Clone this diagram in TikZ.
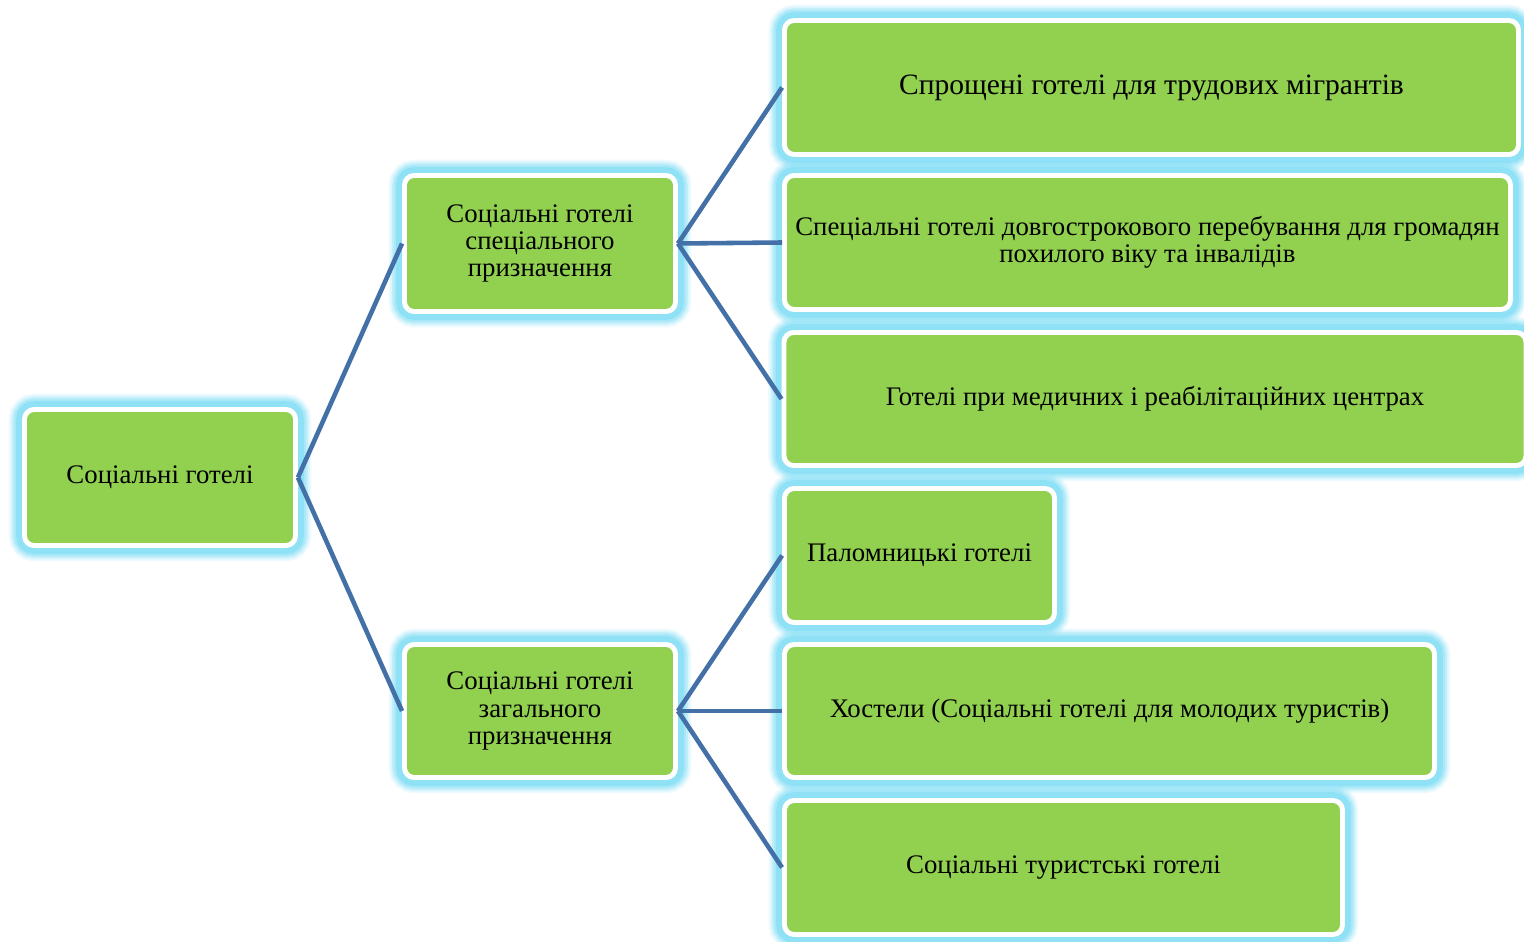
\documentclass[tikz,border=0pt]{standalone}
\usepackage{fontspec}
\setmainfont{Liberation Serif}
\definecolor{boxgreen}{RGB}{146,208,80}
\definecolor{glowblue}{RGB}{140,224,246}
\definecolor{linkblue}{RGB}{68,112,168}
\begin{document}
\begin{tikzpicture}[x=0.02cm,y=-0.02cm,
  hotel/.style={rectangle,rounded corners=5.5pt,draw=white,line width=2.8pt,fill=boxgreen,
    align=center,inner sep=0pt,font=\fontsize{15.25}{15.6}\selectfont,
    preaction={draw=glowblue,line width=18pt,opacity=0.15},
    preaction={draw=glowblue,line width=16pt,opacity=0.2},
    preaction={draw=glowblue,line width=14pt,opacity=0.3},
    preaction={draw=glowblue,line width=12pt,opacity=0.45},
    preaction={draw=glowblue,line width=9.5pt,opacity=0.9}},
  link/.style={draw=linkblue,line width=2.6pt}]
\useasboundingbox (0,0) rectangle (1524,942);

% Knoten
\node[hotel,minimum width=271*0.02cm,minimum height=136*0.02cm] (root) at (160,477.5) {Соціальні готелі};

\node[hotel,minimum width=271*0.02cm,minimum height=136*0.02cm] (spec) at (540,243.5) {Соціальні готелі\\спеціального\\призначення};
\node[hotel,minimum width=271*0.02cm,minimum height=133*0.02cm] (gen) at (540,711) {Соціальні готелі\\загального\\призначення};

\node[hotel,minimum width=734*0.02cm,minimum height=134*0.02cm,font=\fontsize{16.8}{18}\selectfont] (migr) at (1151.5,87.5) {Спрощені готелі для трудових мігрантів};
\node[hotel,minimum width=726*0.02cm,minimum height=134*0.02cm] (old) at (1147.5,242.5) {Спеціальні готелі довгострокового перебування для громадян\\похилого віку та інвалідів};
\node[hotel,minimum width=742*0.02cm,minimum height=133*0.02cm] (med) at (1155,399) {Готелі при медичних і реабілітаційних центрах};

\node[hotel,minimum width=270*0.02cm,minimum height=134*0.02cm] (pilg) at (919.5,555.5) {Паломницькі готелі};
\node[hotel,minimum width=650*0.02cm,minimum height=133*0.02cm] (host) at (1109.5,711) {Хостели (Соціальні готелі для молодих туристів)};
\node[hotel,minimum width=558*0.02cm,minimum height=134*0.02cm] (tour) at (1063.5,867.5) {Соціальні туристські готелі};

% Verbindungen
\draw[link] (root.east) -- (spec.west);
\draw[link] (root.east) -- (gen.west);
\draw[link] (spec.east) -- (migr.west);
\draw[link] (spec.east) -- (old.west);
\draw[link] (spec.east) -- (med.west);
\draw[link] (gen.east) -- (pilg.west);
\draw[link] (gen.east) -- (host.west);
\draw[link] (gen.east) -- (tour.west);
\end{tikzpicture}
\end{document}
